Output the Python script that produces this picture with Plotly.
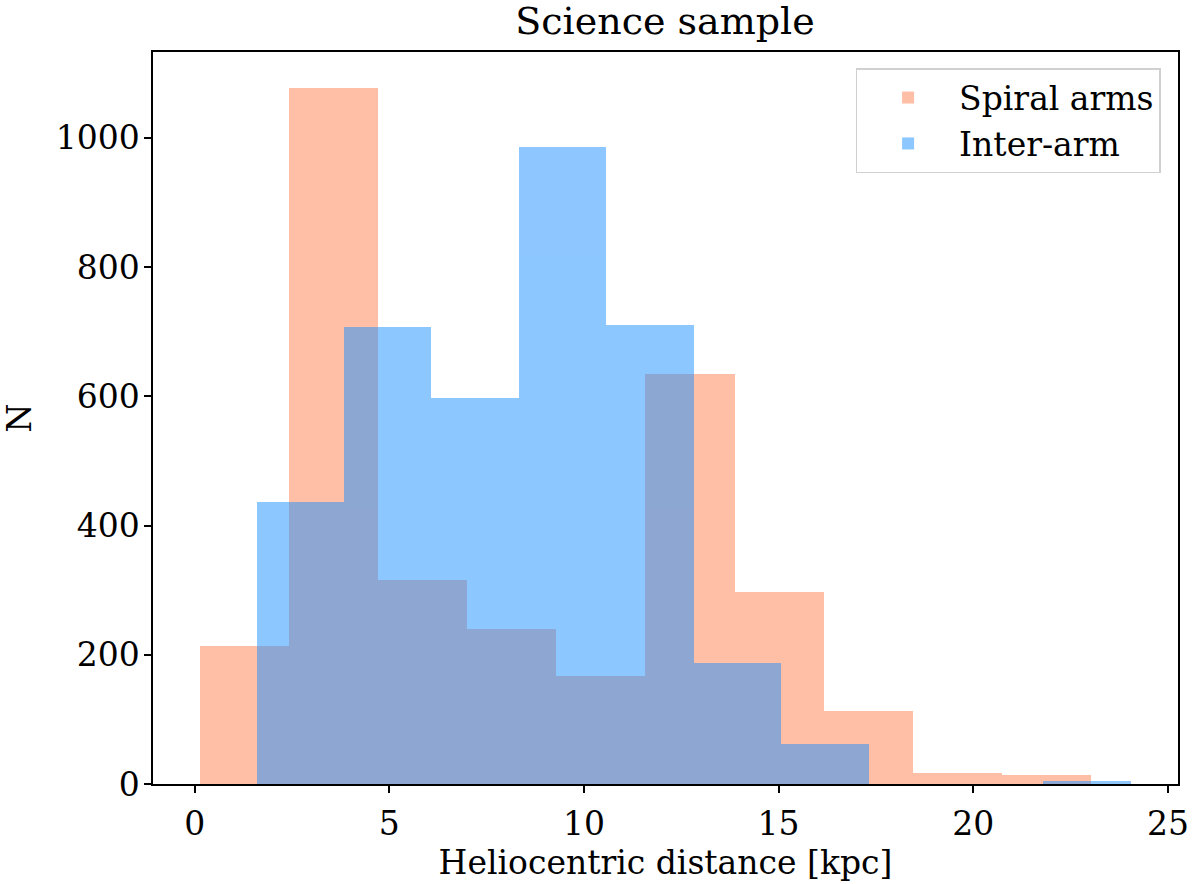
import plotly.graph_objects as go

# Data
spiral_start = 0.136
spiral_binwidth = 2.289
spiral_counts = [213, 1078, 315, 240, 167, 634, 297, 113, 17, 14]

inter_start = 1.59
inter_binwidth = 2.246
inter_counts = [437, 707, 598, 986, 711, 188, 62, 0, 0, 4]

x_ticks = [0, 5, 10, 15, 20, 25]
y_ticks = [0, 200, 400, 600, 800, 1000]

spiral_left = [spiral_start + i * spiral_binwidth for i in range(len(spiral_counts))]
inter_left = [inter_start + i * inter_binwidth for i in range(len(inter_counts))]

FONT = "DejaVu Serif"

fig = go.Figure()
fig.add_trace(go.Bar(
    x=spiral_left, y=spiral_counts, width=spiral_binwidth, offset=0,
    name="Spiral arms", marker=dict(color="#FF7F50", line=dict(width=0)),
    opacity=0.5,
))
fig.add_trace(go.Bar(
    x=inter_left, y=inter_counts, width=inter_binwidth, offset=0,
    name="Inter-arm", marker=dict(color="#1E90FF", line=dict(width=0)),
    opacity=0.5,
))

fig.update_layout(
    width=1200, height=884,
    barmode="overlay", bargap=0,
    plot_bgcolor="white", paper_bgcolor="white",
    margin=dict(l=153, r=22, t=52, b=100, autoexpand=False),
    font=dict(family=FONT, size=33, color="black"),
    title=dict(text="Science sample", x=665 / 1200, xanchor="center",
               y=1 - 7 / 884, yanchor="top", yref="container",
               font=dict(family=FONT, size=38, color="black")),
    legend=dict(x=0.983, y=0.978, xanchor="right", yanchor="top",
                bgcolor="rgba(255,255,255,0.8)", bordercolor="#d0d0d0", borderwidth=1.5,
                font=dict(family=FONT, size=33), itemwidth=92,
                tracegroupgap=2),
    showlegend=True,
)
fig.update_xaxes(
    range=[-1.07, 25.26], tickvals=x_ticks, ticktext=[str(v) for v in x_ticks],
    showgrid=False, zeroline=False,
    showline=True, linecolor="black", linewidth=1.5, mirror=True,
    ticks="outside", ticklen=7, tickwidth=1.5, tickcolor="black",
    ticklabelstandoff=3,
    tickfont=dict(family=FONT, size=33),
    title=dict(text="Heliocentric distance [kpc]", standoff=7,
               font=dict(family=FONT, size=33)),
)
fig.update_yaxes(
    range=[0, 1133], tickvals=y_ticks, ticktext=[str(v) for v in y_ticks],
    showgrid=False, zeroline=False,
    showline=True, linecolor="black", linewidth=1.5, mirror=True,
    ticks="outside", ticklen=7, tickwidth=1.5, tickcolor="black",
    ticklabelstandoff=-2,
    tickfont=dict(family=FONT, size=33),
    title=dict(text="N", standoff=14, font=dict(family=FONT, size=33)),
)

fig.write_html("out.html", config={"displayModeBar": False},
               post_script="document.body.style.margin='0px';")
